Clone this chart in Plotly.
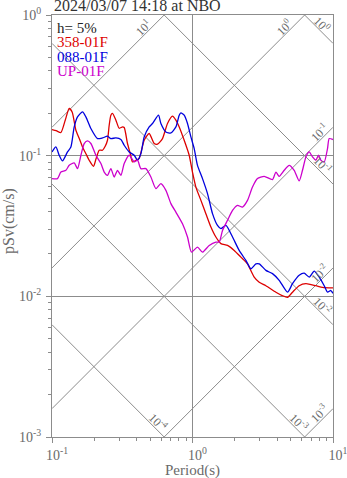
import numpy as np
import plotly.graph_objects as go

# ---- response spectra (period in s, pSv in cm/s) ----
period_ns = [0.1, 0.1071, 0.1157, 0.1242, 0.1326, 0.1393, 0.1479, 0.1561, 0.1649, 0.1751,
             0.1839, 0.1974, 0.2063, 0.2167, 0.2288, 0.2391, 0.2483, 0.2553, 0.2625, 0.2695,
             0.2850, 0.3008, 0.3176, 0.3265, 0.3446, 0.3602, 0.3741, 0.3956, 0.4176, 0.4530,
             0.4917, 0.5337, 0.5633, 0.6115, 0.6638, 0.7206, 0.7617, 0.8044, 0.8727, 0.9474,
             1.0, 1.057, 1.148, 1.245, 1.352, 1.467, 1.593, 1.775, 1.981, 2.211,
             2.463, 2.749, 2.984, 3.330, 3.923, 4.350, 4.746, 5.149, 5.745, 6.413,
             7.554, 8.422, 10.0]
psv_ns = [0.1534, 0.1505, 0.1461, 0.1787, 0.2165, 0.2037, 0.1517, 0.1330, 0.1153, 0.1023,
          0.0928, 0.0840, 0.0958, 0.1093, 0.1093, 0.1167, 0.1287, 0.1646, 0.1940, 0.1995,
          0.1787, 0.1567, 0.1601, 0.1585, 0.1220, 0.1040, 0.0902, 0.0928, 0.0958, 0.1287,
          0.1437, 0.1220, 0.1206, 0.1323, 0.1693, 0.1908, 0.1787, 0.1601, 0.1287, 0.1007,
          0.0762, 0.0598, 0.0481, 0.0387, 0.0311, 0.0264, 0.0237, 0.0230, 0.0212, 0.0190,
          0.0170, 0.0137, 0.0126, 0.0119, 0.0107, 0.01013, 0.00985, 0.0107, 0.0119, 0.0123,
          0.0119, 0.0116, 0.0115]

period_ew = [0.1, 0.1066, 0.1125, 0.1188, 0.1289, 0.1363, 0.1439, 0.1519, 0.1649, 0.1743,
             0.1891, 0.2108, 0.2288, 0.2483, 0.2625, 0.2850, 0.3093, 0.3265, 0.3544, 0.3847,
             0.4061, 0.4293, 0.4530, 0.4917, 0.5191, 0.5728, 0.5957, 0.6466, 0.7021, 0.7617,
             0.8044, 0.8269, 0.8727, 0.9213, 0.9741, 1.028, 1.085, 1.178, 1.279, 1.388,
             1.506, 1.593, 1.729, 1.927, 2.149, 2.399, 2.604, 2.827, 2.984, 3.330,
             3.710, 4.141, 4.746, 5.149, 5.745, 6.237, 6.771, 7.349, 7.977, 8.659,
             9.139, 9.663, 10.0]
psv_ew = [0.1063, 0.1153, 0.1007, 0.0917, 0.1063, 0.1153, 0.1601, 0.1886, 0.2048, 0.1886,
          0.1560, 0.1323, 0.1337, 0.1375, 0.1323, 0.1337, 0.1302, 0.1186, 0.1063, 0.1007,
          0.0928, 0.1035, 0.1359, 0.1601, 0.1693, 0.1940, 0.1693, 0.1475, 0.1451, 0.1601,
          0.1940, 0.2014, 0.1940, 0.1693, 0.1359, 0.1123, 0.0854, 0.0687, 0.0537, 0.0387,
          0.0319, 0.0303, 0.0319, 0.0264, 0.0212, 0.0180, 0.0157, 0.0170, 0.0170, 0.0153,
          0.0145, 0.0130, 0.0107, 0.0123, 0.0141, 0.0146, 0.0137, 0.0151, 0.0137, 0.0119,
          0.0107, 0.0110, 0.0105]

period_ud = [0.1, 0.1094, 0.1157, 0.1256, 0.1326, 0.1439, 0.1519, 0.1606, 0.1695, 0.1789,
             0.1891, 0.2053, 0.2229, 0.2352, 0.2483, 0.2625, 0.2771, 0.2925, 0.3093, 0.3265,
             0.3544, 0.3847, 0.4061, 0.4293, 0.4659, 0.5057, 0.5489, 0.5957, 0.6466, 0.7021,
             0.7617, 0.8489, 0.9213, 0.9837, 1.085, 1.178, 1.315, 1.467, 1.549, 1.635,
             1.775, 1.927, 2.090, 2.269, 2.463, 2.673, 2.901, 3.238, 3.710, 3.923,
             4.141, 4.494, 4.878, 5.294, 5.745, 6.066, 6.413, 6.771, 7.146, 7.554,
             7.886, 8.203, 8.659, 9.139, 9.397, 10.0]
psv_ud = [0.0687, 0.0687, 0.0765, 0.0787, 0.0854, 0.0887, 0.0809, 0.1007, 0.1220, 0.1273,
          0.1220, 0.1007, 0.0879, 0.0765, 0.0725, 0.0809, 0.0705, 0.0787, 0.0725, 0.0879,
          0.1007, 0.0902, 0.0928, 0.0809, 0.0809, 0.0705, 0.0583, 0.0633, 0.0567, 0.0456,
          0.0397, 0.0328, 0.0264, 0.0206, 0.0224, 0.0206, 0.0230, 0.0243, 0.0243, 0.0294,
          0.0347, 0.0408, 0.0443, 0.0431, 0.0481, 0.0598, 0.0687, 0.0713, 0.0676, 0.0765,
          0.0713, 0.0787, 0.0854, 0.0787, 0.0661, 0.0787, 0.0979, 0.1063, 0.0979, 0.0928,
          0.1007, 0.0928, 0.0902, 0.1123, 0.1323, 0.1302]

series_names = ["358-01F", "088-01F", "UP-01F"]
series_colors = ["#dd0000", "#0000dd", "#cc00cc"]

# tripartite guide lines: displacement (cm) and acceleration (cm/s^2)
disp_levels = [1.0, 0.1, 0.01, 0.001, 0.0001]
disp_text = ["10<sup>0</sup>", "10<sup>-1</sup>", "10<sup>-2</sup>", "10<sup>-3</sup>", "10<sup>-4</sup>"]
acc_levels = [10.0, 1.0, 0.1, 0.01, 0.001]
acc_text = ["10<sup>1</sup>", "10<sup>0</sup>", "10<sup>-1</sup>", "10<sup>-2</sup>", "10<sup>-3</sup>"]

x_ticks = [0.1, 1, 10]
x_ticktext = ["10<sup>-1</sup>", "10<sup>0</sup>", "10<sup>1</sup>"]
y_ticks = [0.001, 0.01, 0.1, 1]
y_ticktext = ["10<sup>-3</sup>", "10<sup>-2</sup>", "10<sup>-1</sup>", "10<sup>0</sup>"]

title_text = "2024/03/07 14:18 at NBO"
damping_text = "h= 5%"
x_title = "Period(s)"
y_title = "pSv(cm/s)"

X_RANGE = [-1, 1]
Y_RANGE = [-3, 0]
W, H = 347, 478
M = dict(l=52, r=14, t=15, b=41)
PX_PER_DEC = (W - M["l"] - M["r"]) / (X_RANGE[1] - X_RANGE[0])

GRID = "#8c8c8c"
TXT = "#6a6a6a"
SERIF = "Liberation Serif, Times New Roman, serif"

fig = go.Figure()

# guide lines (clipped by the plot area)
t_full = np.array([10 ** X_RANGE[0], 10 ** X_RANGE[1]])
two_pi = 2 * np.pi
for d in disp_levels:
    fig.add_trace(go.Scatter(x=t_full, y=two_pi * d / t_full, mode="lines",
                             line=dict(color=GRID, width=1), hoverinfo="skip", showlegend=False))
for a in acc_levels:
    fig.add_trace(go.Scatter(x=t_full, y=a * t_full / two_pi, mode="lines",
                             line=dict(color=GRID, width=1), hoverinfo="skip", showlegend=False))

# guide line labels, placed near where each line leaves the frame
annotations = []
perp = 6 / np.sqrt(2)
for d, txt in zip(disp_levels, disp_text):
    ly_right = np.log10(two_pi * d) - X_RANGE[1]
    if ly_right >= Y_RANGE[0]:
        xe, ye, h = X_RANGE[1], ly_right, 15.0
    else:
        xe, ye, h = np.log10(two_pi * d) - Y_RANGE[0], Y_RANGE[0], 10.0
    lx = xe - h / PX_PER_DEC
    ly = ye + h / PX_PER_DEC
    annotations.append(dict(x=lx, y=ly, xref="x", yref="y", text=txt, showarrow=False,
                            textangle=45, xshift=perp, yshift=perp,
                            font=dict(family=SERIF, size=12, color=TXT)))
for a, txt in zip(acc_levels, acc_text):
    ly_right = np.log10(a / two_pi) + X_RANGE[1]
    if ly_right <= Y_RANGE[1]:
        xe, ye, h = X_RANGE[1], ly_right, 9.5
    else:
        xe, ye, h = np.log10(two_pi / a), Y_RANGE[1], 16.5
    lx = xe - h / PX_PER_DEC
    ly = ye - h / PX_PER_DEC
    annotations.append(dict(x=lx, y=ly, xref="x", yref="y", text=txt, showarrow=False,
                            textangle=-45, xshift=-perp, yshift=perp,
                            font=dict(family=SERIF, size=12, color=TXT)))

# response spectra
for per, val, name, col in zip([period_ns, period_ew, period_ud],
                               [psv_ns, psv_ew, psv_ud], series_names, series_colors):
    fig.add_trace(go.Scatter(x=per, y=val, mode="lines", name=name,
                             line=dict(color=col, width=1.3, shape="spline", smoothing=0.6),
                             showlegend=False))

# in-plot legend
legend_rows = [(damping_text, "#222222")] + list(zip(series_names, series_colors))
for i, (txt, col) in enumerate(legend_rows):
    annotations.append(dict(x=0, y=1, xref="paper", yref="paper", xanchor="left",
                            yanchor="top", xshift=3, yshift=-3 - 14.3 * i, text=txt,
                            showarrow=False, font=dict(family=SERIF, size=15, color=col)))

# title above the frame
annotations.append(dict(x=0, y=1, xref="paper", yref="paper", xanchor="left",
                        yanchor="bottom", yshift=-1.5, text=title_text, showarrow=False,
                        font=dict(family=SERIF, size=16, color="#333333")))

# axis titles
annotations.append(dict(x=0.5, y=0, xref="paper", yref="paper", xanchor="center",
                        yanchor="middle", yshift=-33, text=x_title, showarrow=False,
                        font=dict(family=SERIF, size=15, color=TXT)))
annotations.append(dict(x=0, y=0.5, xref="paper", yref="paper", xanchor="center",
                        yanchor="middle", xshift=-43, yshift=5, text=y_title,
                        textangle=-90, showarrow=False,
                        font=dict(family=SERIF, size=16, color=TXT)))

minor_x = [m * 10 ** e for e in (-1, 0) for m in range(2, 10)]
minor_y = [m * 10 ** e for e in (-3, -2, -1) for m in range(2, 10)]

axis_common = dict(type="log", automargin=False, showline=True, linecolor=GRID,
                   linewidth=1, mirror=True, ticks="outside", ticklen=5, tickcolor=GRID,
                   showgrid=True, gridcolor=GRID, gridwidth=1, zeroline=False,
                   tickmode="array", ticklabeloverflow="allow",
                   tickfont=dict(family=SERIF, size=14, color=TXT))

fig.update_layout(
    width=W, height=H, margin=M,
    paper_bgcolor="white", plot_bgcolor="white",
    showlegend=False, hovermode=False,
    xaxis=dict(range=X_RANGE, tickvals=x_ticks, ticktext=x_ticktext, ticklabelshift=5,
               minor=dict(tickmode="array", tickvals=minor_x, ticks="outside",
                          ticklen=3, tickcolor=GRID, showgrid=False),
               **axis_common),
    yaxis=dict(range=Y_RANGE, tickvals=y_ticks, ticktext=y_ticktext, ticklabelstandoff=2,
               minor=dict(tickmode="array", tickvals=minor_y, ticks="outside",
                          ticklen=3, tickcolor=GRID, showgrid=False),
               **axis_common),
    annotations=annotations,
)

fig.write_html("out.html")
